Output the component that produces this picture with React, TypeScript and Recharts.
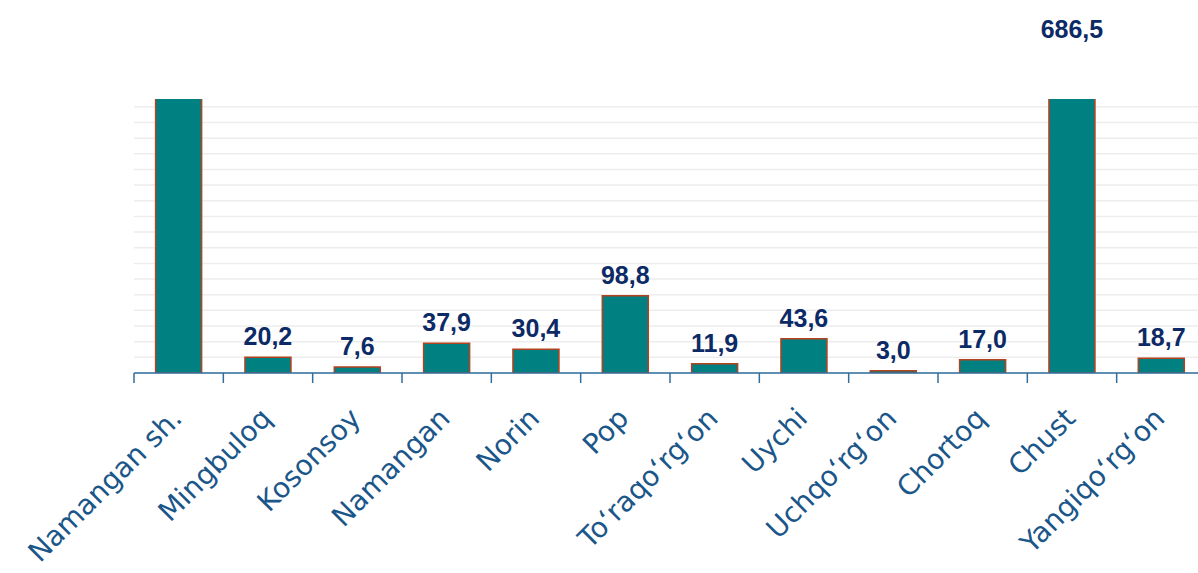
import React from 'react';
import { BarChart, Bar, XAxis, YAxis, CartesianGrid, LabelList } from 'recharts';

// Districts of the region, left to right
const districts = [
  'Namangan sh.',
  'Mingbuloq',
  'Kosonsoy',
  'Namangan',
  'Norin',
  'Pop',
  'To‘raqo‘rg‘on',
  'Uychi',
  'Uchqo‘rg‘on',
  'Chortoq',
  'Chust',
  'Yangiqo‘rg‘on',
];

// Bar values (the city bar runs far past the axis maximum)
const values = [1250.0, 20.2, 7.6, 37.9, 30.4, 98.8, 11.9, 43.6, 3.0, 17.0, 686.5, 18.7];

// Which bars carry a value label
const labelShown = [false, true, true, true, true, true, true, true, true, true, true, true];

// Horizontal grid values and axis maximum
const gridTicks = [0, 20, 40, 60, 80, 100, 120, 140, 160, 180, 200, 220, 240, 260, 280, 300, 320, 340];
const Y_MAX = 350;

const CHART_W = 1206;
const CHART_H = 573;
const MARGIN = { top: 99, right: 0, bottom: 0, left: 134 };
const X_AXIS_H = 200;
const BAND = (CHART_W - MARGIN.left - MARGIN.right) / districts.length;

const AXIS_COLOR = '#2F6E9F';
const TICK_COLOR = '#1A5689';
const LABEL_COLOR = '#0C2A66';
const BAR_FILL = '#008080';
const BAR_STROKE = '#B3421F';

const rows = districts.map((name, i) => ({
  name,
  value: values[i],
  label: labelShown[i] ? values[i] : null,
}));

const fmt = (v: number) => v.toFixed(1).replace('.', ',');

// Category tick: boundary marks between categories plus a slanted name
const DistrictTick = (props: any) => {
  const { x, y, payload, index } = props;
  const left = x - BAND / 2;
  const right = x + BAND / 2;
  return (
    <g>
      <line x1={left} y1={y} x2={left} y2={y + 10} stroke={AXIS_COLOR} strokeWidth={1.5} />
      {index === districts.length - 1 && (
        <line x1={right} y1={y} x2={right} y2={y + 10} stroke={AXIS_COLOR} strokeWidth={1.5} />
      )}
      <text
        transform={`translate(${x + 5},${y + 47}) rotate(-45)`}
        textAnchor="end"
        fill={TICK_COLOR}
        fontSize={28}
        fontFamily="'DejaVu Sans', sans-serif"
      >
        {payload.value}
      </text>
    </g>
  );
};

// Value label above each bar; bars beyond the axis get their label above the plot
const ValueLabel = (props: any) => {
  const { x, y, width, value } = props;
  if (value === null || value === undefined) return null;
  const v = Number(value);
  const cx = Number(x) + Number(width) / 2;
  const baseline = v > Y_MAX ? MARGIN.top - 61 : Number(y) - 12;
  return (
    <text
      x={cx}
      y={baseline}
      textAnchor="middle"
      fill={LABEL_COLOR}
      fontSize={25}
      fontWeight="bold"
      fontFamily="'Liberation Sans', Arial, sans-serif"
    >
      {fmt(v)}
    </text>
  );
};

export default function App() {
  return (
    <div
      style={{
        position: 'absolute',
        left: 0,
        top: 0,
        width: 1198,
        height: 573,
        overflow: 'hidden',
        background: '#ffffff',
      }}
    >
      <BarChart width={CHART_W} height={CHART_H} data={rows} margin={MARGIN} barCategoryGap="24.2%">
        <CartesianGrid
          horizontal
          vertical={false}
          horizontalValues={gridTicks}
          stroke="#EDEDED"
          strokeWidth={1.5}
        />
        <YAxis hide domain={[0, Y_MAX]} ticks={gridTicks} interval={0} allowDataOverflow type="number" />
        <XAxis
          dataKey="name"
          height={X_AXIS_H}
          interval={0}
          tickLine={false}
          tickSize={0}
          tickMargin={0}
          axisLine={{ stroke: AXIS_COLOR, strokeWidth: 1.5 }}
          tick={<DistrictTick />}
        />
        <Bar
          dataKey="value"
          fill={BAR_FILL}
          stroke={BAR_STROKE}
          strokeWidth={1.5}
          isAnimationActive={false}
        >
          <LabelList dataKey="label" content={<ValueLabel />} />
        </Bar>
      </BarChart>
    </div>
  );
}
